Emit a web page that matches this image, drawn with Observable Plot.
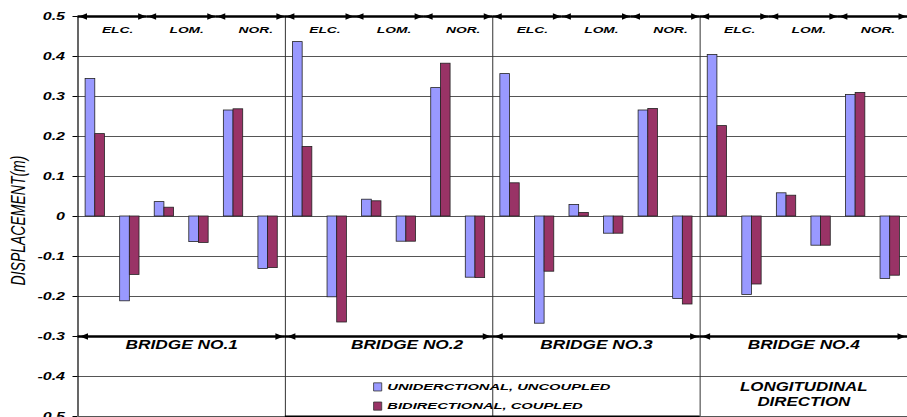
<!DOCTYPE html>
<html><head><meta charset="utf-8">
<script src="https://cdn.jsdelivr.net/npm/d3@7"></script>
<script src="https://cdn.jsdelivr.net/npm/@observablehq/plot@0.6"></script>
<style>
body{margin:0;background:#fff;}
#chart svg{display:block;}
g[aria-label^="y-axis"] text{font-weight:bold;font-style:italic;}
</style></head><body><div id="chart"></div>
<script>
const bridges = ["BRIDGE NO.1", "BRIDGE NO.2", "BRIDGE NO.3", "BRIDGE NO.4"];
const records = ["ELC.", "LOM.", "NOR."];
const seriesNames = ["UNIDERCTIONAL, UNCOUPLED", "BIDIRECTIONAL, COUPLED"];
const seriesColors = ["#9999ff", "#993366"];
// 24 groups: per bridge ELC(+,-), LOM(+,-), NOR(+,-)
const uni = [0.344, -0.212, 0.036, -0.064, 0.265, -0.131,
             0.436, -0.202, 0.042, -0.063, 0.321, -0.153,
             0.356, -0.268, 0.029, -0.043, 0.265, -0.206,
             0.404, -0.196, 0.058, -0.073, 0.304, -0.156];
const bi  = [0.206, -0.146, 0.022, -0.066, 0.268, -0.129,
             0.174, -0.265, 0.038, -0.063, 0.382, -0.154,
             0.083, -0.138, 0.009, -0.043, 0.269, -0.220,
             0.226, -0.170, 0.052, -0.073, 0.309, -0.148];
const yTicks = [0.5, 0.4, 0.3, 0.2, 0.1, 0, -0.1, -0.2, -0.3, -0.4, -0.5];
const yTitle = "DISPLACEMENT(m)";
const directionNote = "LONGITUDINAL\nDIRECTION";

const bars = [];
uni.forEach((v, g) => bars.push({g, s: 0, v}));
bi.forEach((v, g) => bars.push({g, s: 1, v}));
const perBridge = records.length * 2;
const segs = bridges.flatMap((b, i) => records.map((r, j) => ({label: r, a: i * perBridge + j * 2, b: i * perBridge + j * 2 + 2})));
const spans = bridges.map((b, i) => ({label: b, a: i * perBridge, b: (i + 1) * perBridge}));
const dividers = spans.slice(1).map(d => d.a);
const W = 0.28;
const fmt = d => d === 0 ? "0" : d.toFixed(1);

const headR = {draw(ctx) { ctx.moveTo(0, 0); ctx.lineTo(-8, -3.2); ctx.lineTo(-8, 3.2); ctx.closePath(); }};
const headL = {draw(ctx) { ctx.moveTo(0, 0); ctx.lineTo(8, -3.2); ctx.lineTo(8, 3.2); ctx.closePath(); }};
const txt = {fontWeight: "bold", fontStyle: "italic", fill: "#000"};

const chart = Plot.plot({
  width: 907, height: 417,
  marginLeft: 77.5, marginRight: 0, marginTop: 16, marginBottom: 1,
  style: {fontFamily: "'Liberation Sans', Arial, sans-serif", fontSize: "10px", background: "#fff", color: "#000"},
  x: {domain: [0, bars.length / 2], axis: null},
  y: {domain: [-0.5, 0.5], ticks: yTicks, tickFormat: fmt, tickSize: 5, tickPadding: 8, label: null},
  color: {domain: seriesNames, range: seriesColors},
  marks: [
    Plot.ruleY(yTicks, {stroke: "#555", strokeWidth: 1}),
    Plot.ruleX(dividers, {stroke: "#333", strokeWidth: 1}),
    Plot.ruleX([0], {stroke: "#000", strokeWidth: 1.2}),
    Plot.ruleY([-0.5], {x1: () => dividers[0], x2: () => dividers[2], stroke: "#000", strokeWidth: 2}),
    Plot.rect(bars, {
      x1: d => d.g + 0.5 - W + d.s * W, x2: d => d.g + 0.5 + d.s * W,
      y1: () => 0, y2: "v", fill: d => seriesNames[d.s], stroke: "#222", strokeWidth: 0.8
    }),
    // top record arrows
    Plot.ruleY(segs, {y: () => 0.5, x1: "a", x2: "b", stroke: "#000", strokeWidth: 2.5}),
    Plot.dot(segs, {x: "a", y: () => 0.5, symbol: headL, r: 3, fill: "#000", dx: 1}),
    Plot.dot(segs, {x: "b", y: () => 0.5, symbol: headR, r: 3, fill: "#000", dx: -1}),
    Plot.text(segs, {x: d => (d.a + d.b) / 2, y: () => 0.5, text: "label", dy: 13, dx: 5, fontSize: 9.5, ...txt}),
    // bridge arrows
    Plot.ruleY(spans, {y: () => -0.3, x1: "a", x2: "b", stroke: "#000", strokeWidth: 2.5}),
    Plot.dot(spans, {x: "a", y: () => -0.3, symbol: headL, r: 3, fill: "#000", dx: 2}),
    Plot.dot(spans, {x: "b", y: () => -0.3, symbol: headR, r: 3, fill: "#000", dx: -2}),
    Plot.text(spans.filter((d, i) => i !== 1), {x: d => (d.a + d.b) / 2, y: () => -0.3, text: "label", dy: 8, fontSize: 13, ...txt}),
    Plot.text(spans.filter((d, i) => i === 1), {x: d => (d.a + d.b) / 2, y: () => -0.3, text: "label", dy: 8, dx: 18, fontSize: 13, ...txt}),
    // legend
    Plot.dot(seriesNames, {x: () => 8.67, y: (d, i) => -0.426 - i * 0.048, symbol: "square", r: 4.6, fill: d => d, stroke: "#333", strokeWidth: 0.8}),
    Plot.text(seriesNames, {x: () => 8.95, y: (d, i) => -0.426 - i * 0.048, text: d => d, textAnchor: "start", fontSize: 9.5, ...txt}),
    Plot.text([directionNote], {x: () => 21, y: () => -0.4425, text: d => d, fontSize: 13, lineHeight: 1.2, ...txt}),
    Plot.text([yTitle], {frameAnchor: "left", dx: -59, dy: 4, rotate: -90, textAnchor: "middle", text: d => d, fontSize: 14, fontStyle: "italic", fill: "#000"})
  ]
});
document.getElementById("chart").appendChild(chart);

// horizontal widening of the lettering, as in the reference
const num = v => /^-?[\d.]+$/.test(v || "") ? +v : 0;
const factor = new Map();
yTicks.forEach(t => factor.set(fmt(t), 1.6));
records.forEach(r => factor.set(r, 1.45));
bridges.forEach(b => factor.set(b, 1.33));
seriesNames.forEach(s => factor.set(s, 1.55));
factor.set(directionNote.replace("\n", ""), 1.3);
chart.querySelectorAll("text").forEach(t => {
  const content = t.textContent;
  const tr = t.getAttribute("transform") || "";
  if (content === yTitle) {
    const y = num(t.getAttribute("y"));
    t.setAttribute("transform", `${tr} translate(0,${y}) scale(1,1.4) translate(0,${-y})`);
    return;
  }
  const sx = factor.get(content);
  if (!sx) return;
  const x = num(t.getAttribute("x"));
  t.setAttribute("transform", `${tr} translate(${x},0) scale(${sx},1) translate(${-x},0)`);
});
</script></body></html>
